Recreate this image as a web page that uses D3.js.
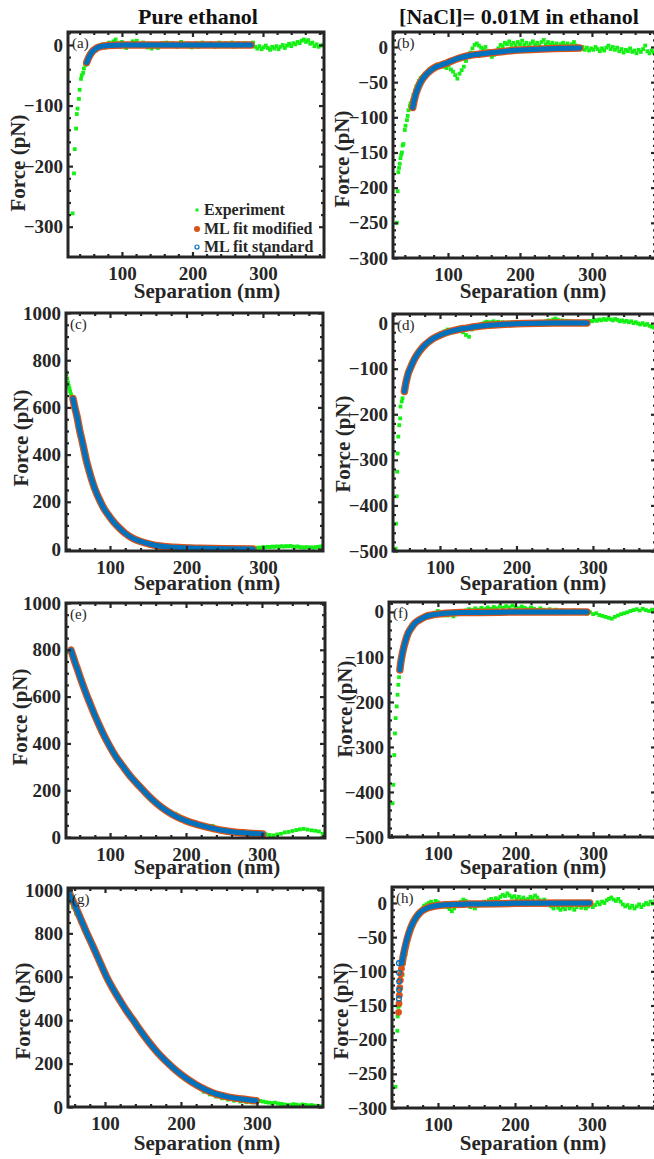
<!DOCTYPE html>
<html>
<head>
<meta charset="utf-8">
<script src="https://cdn.jsdelivr.net/npm/d3@7"></script>
<style>
body { margin: 0; background: #fff; }
text { font-family: "Liberation Serif", "Times New Roman", serif; }
</style>
</head>
<body>
<svg id="fig" width="654" height="1159"></svg>
<script>
// column titles, legend names
var colTitles = ['Pure ethanol', '[NaCl]= 0.01M in ethanol'];
var seriesNames = ['Experiment', 'ML fit modified', 'ML fit standard'];
var xTicks = [100, 200, 300];

// experiment points [separation nm, force pN]
var expA = [[30,-278],[32,-212],[33,-172],[35,-138],[36,-114],[37,-105],[39,-89],[40,-74],[42,-56],[43,-50],[45,-46],[46,-39],[48,-33],[50,-28],[52,-22],[55,-17],[58,-13],[61,-9],[64,-6],[67,-3],[70,-1],
[73,1],[76,-4],[79,2],[82,4],[85,0],[88,6],[91,9],[94,3],[97,-3],[100,5],[103,2],[106,-5],[109,1],[112,-2],[115,6],[118,4],[121,7],[124,2],[127,-1],[130,4],[133,0],[136,-4],[139,2],[142,-6],[145,-3],[148,1],[151,-5],[154,-2],[157,3],[160,-1],[163,4],[166,2],[169,-2],[172,3],[175,0],[178,-3],[181,2],[184,5],[187,1],[190,-2],[193,3],[196,0],[199,-4],[202,-1],[205,3],[208,-3],[211,1],[214,4],[217,-2],[220,2],[223,-1],[226,3],[229,0],[232,-3],[235,2],[238,4],[241,-2],[244,1],[247,3],[250,-1],[253,2],[256,4],[259,-3],[262,0],[265,3],[268,-2],[271,1],[274,3],[277,-1],[280,2],[283,-1],[286,4],[289,-3],[292,-6],[295,-2],[298,-7],[301,-4],[304,-1],[307,-5],[310,-8],[313,-3],[316,-6],[319,-2],[322,-7],[325,-3],[328,0],[331,-5],[334,-1],[337,2],[340,-2],[343,3],[346,1],[349,5],[352,3],[355,7],[358,9],[361,5],[364,8],[367,2],[370,4],[373,-2],[376,1],[379,-3],[382,-1],[385,0]];

var expB = [[29,-250],[30,-205],[31,-178],[32,-172],[33,-166],[34,-158],[35,-153],[36,-150],[37,-140],[38,-138],[40,-118],[41,-112],[43,-104],[44,-98],[45,-90],[47,-84],[48,-80],[50,-76],[52,-68],[54,-62],[56,-56],[58,-52],[60,-48],[62,-44],[65,-41],[68,-38],[71,-36],[74,-32],[77,-30],[80,-29],[83,-27],[86,-25],[89,-27],[92,-24],[95,-28],[98,-30],[101,-26],[104,-32],[107,-35],[110,-40],[113,-45],[116,-38],[119,-33],[122,-28],[125,-20],[128,-14],[131,-8],[134,-2],[137,3],[140,5],[143,2],[146,-1],[149,-3],[152,0],[155,-6],[158,-10],[161,-14],[164,-11],[167,-6],[170,-2],[173,3],[176,1],[179,6],[182,4],[185,8],[188,3],[191,6],[194,2],[197,7],[200,4],[203,9],[206,3],[209,6],[212,1],[215,5],[218,8],[221,3],[224,6],[227,2],[230,7],[233,10],[236,4],[239,7],[242,3],[245,6],[248,2],[251,5],[254,1],[257,4],[260,6],[263,2],[266,5],[269,1],[272,4],[275,7],[278,2],[281,-1],[284,-3],[287,0],[290,-4],[293,-1],[296,-5],[299,-2],[302,-4],[305,0],[308,-3],[311,-6],[314,-2],[317,-5],[320,-1],[323,2],[326,-3],[329,0],[332,-4],[335,-1],[338,-6],[341,-3],[344,-8],[347,-4],[350,-6],[353,-2],[356,-7],[359,-5],[362,-9],[365,-4],[368,-7],[371,-3],[374,2],[377,-6],[380,-9],[383,-5],[386,-8]];

var expC = [[42,750],[43,740],[44,722],[45,705],[46,692],[47,680],[48,668],[49,655],[50,645],[52,628],[55,585],[58,545],[62,478],[66,425],[70,365],[75,312],[80,258],[85,222],[90,185],[95,158],[100,133],[110,93],[120,66],[130,44],[140,30],[150,20],[160,13],[170,7],[180,2],[190,-4],[200,-7],[210,-8],[220,-6],[230,-7],[240,-5],[250,-3],[260,-2],[270,0],[280,1],[288,2],[291,4],[294,6],[297,5],[300,8],[303,7],[306,9],[309,8],[312,10],[315,9],[318,11],[321,9],[324,12],[327,10],[330,12],[333,11],[336,13],[339,10],[342,9],[345,11],[348,8],[351,7],[354,6],[357,8],[360,6],[363,7],[366,5],[369,8],[372,9],[375,10],[378,12]];

var expD = [[42,-495],[42.5,-440],[43.5,-380],[44,-326],[44.6,-286],[45.5,-249],[46.8,-224],[48,-209],[48.4,-183],[50,-172],[51,-165],[53,-150],[55,-130],[57,-115],[60,-100],[63,-88],[66,-80],[70,-68],[74,-58],[78,-50],[82,-45],[86,-40],[90,-35],[94,-32],[98,-27],[102,-22],[106,-18],[110,-14],[114,-18],[118,-20],[122,-18],[126,-16],[130,-20],[134,-26],[138,-30],[142,-14],[146,-8],[150,-5],[154,-2],[158,1],[161,3],[164,1],[167,2],[170,4],[173,1],[176,3],[179,0],[182,2],[185,-1],[188,1],[191,-2],[194,2],[197,0],[200,3],[203,-1],[206,1],[209,-2],[212,0],[215,-3],[218,1],[221,-1],[224,2],[227,0],[230,3],[233,1],[236,2],[239,4],[242,6],[245,4],[248,8],[251,10],[254,7],[257,4],[260,6],[263,3],[266,5],[269,2],[272,4],[275,1],[278,3],[281,0],[284,2],[287,-1],[290,1],[293,3],[296,5],[299,4],[302,7],[305,5],[308,8],[311,6],[314,9],[317,7],[320,10],[323,8],[326,6],[329,9],[332,7],[335,4],[338,6],[341,3],[344,5],[347,2],[350,4],[353,0],[356,2],[359,-1],[362,-3],[365,0],[368,-4],[371,-2],[374,-6],[377,-8],[380,-10]];

var expE = [[42,790],[44,792],[46,795],[48,790],[52,760],[56,725],[60,690],[65,640],[70,600],[75,560],[80,520],[85,480],[90,445],[95,410],[100,385],[110,335],[120,290],[130,250],[140,215],[150,180],[160,150],[170,125],[180,108],[186,100],[190,92],[200,72],[210,60],[220,50],[230,45],[235,48],[240,36],[250,27],[260,21],[270,17],[280,12],[290,10],[300,8],[305,12],[310,9],[315,7],[320,11],[325,14],[330,20],[335,22],[340,26],[345,30],[350,33],[355,35],[360,32],[365,29],[370,27],[375,24],[380,14]];

var expF = [[41.6,-425],[42.5,-384],[43.8,-318],[44.7,-270],[45.6,-236],[46.9,-210],[48,-184],[49,-162],[50,-145],[52,-120],[54,-98],[56,-80],[59,-60],[62,-46],[65,-38],[68,-30],[72,-22],[76,-17],[80,-12],[85,-8],[90,-5],[95,-2],[100,2],[104,-3],[108,-6],[112,-8],[116,-5],[120,-10],[124,-4],[128,-2],[132,0],[136,3],[140,6],[144,4],[148,8],[152,5],[156,9],[160,6],[164,10],[168,7],[172,11],[176,8],[180,12],[184,9],[188,13],[192,10],[196,14],[200,11],[204,8],[208,12],[212,9],[216,6],[220,10],[224,7],[228,4],[232,8],[236,5],[240,3],[244,6],[248,2],[252,5],[256,1],[260,3],[264,-1],[268,2],[272,0],[276,3],[280,-1],[284,1],[288,-2],[292,-4],[296,-1],[300,-5],[304,-3],[308,-7],[312,-9],[316,-11],[320,-13],[324,-15],[328,-11],[332,-8],[336,-5],[340,-3],[344,-1],[348,2],[352,4],[356,6],[360,3],[364,7],[368,4],[372,2],[376,5],[380,1]];

var expG = [[51,940],[52,955],[53,965],[55,950],[58,920],[62,890],[67,855],[72,815],[78,775],[84,735],[90,690],[96,645],[102,600],[110,550],[118,500],[126,455],[134,415],[142,378],[150,340],[158,300],[166,265],[174,235],[182,205],[190,180],[198,158],[206,130],[214,110],[222,92],[230,70],[238,58],[246,48],[254,40],[262,34],[270,29],[278,25],[286,22],[294,21],[300,24],[304,28],[308,25],[312,22],[316,20],[320,18],[324,20],[328,16],[332,14],[336,12],[340,10],[344,9],[348,13],[352,11],[356,8],[360,12],[364,10],[368,7],[372,9],[376,6],[380,5],[384,4]];

var expH = [[44.8,-269],[47.2,-187],[47.6,-166],[48.5,-152],[50,-150],[52,-125],[54,-105],[56,-88],[58,-75],[60,-62],[62,-52],[64,-45],[66,-38],[68,-32],[70,-27],[72,-25],[74,-20],[76,-17],[78,-14],[80,-8],[82,-4],[85,-2],[88,0],[91,2],[94,-1],[97,3],[100,1],[103,-3],[106,-5],[109,-2],[112,-6],[115,-9],[118,-12],[121,-8],[124,-4],[127,0],[130,2],[133,5],[136,3],[139,-2],[142,-6],[145,-3],[148,-8],[151,-4],[154,0],[157,-3],[160,2],[163,-1],[166,4],[169,6],[172,3],[175,7],[178,5],[181,9],[184,12],[187,10],[190,14],[193,11],[196,8],[199,10],[202,6],[205,9],[208,5],[211,8],[214,4],[217,6],[220,9],[223,7],[226,11],[229,8],[232,4],[235,2],[238,5],[241,1],[244,-2],[247,-5],[250,-8],[253,-3],[256,-7],[259,-10],[262,-6],[265,-9],[268,-4],[271,-8],[274,-5],[277,-10],[280,-6],[283,-3],[286,-7],[289,-4],[292,-8],[295,-5],[298,-2],[301,-6],[304,-3],[307,1],[310,-2],[313,2],[316,0],[319,4],[322,6],[325,8],[328,5],[331,3],[334,6],[337,2],[340,-2],[343,-5],[346,-3],[349,-7],[352,-4],[355,-8],[358,-5],[361,-2],[364,-6],[367,-3],[370,0],[373,-2],[376,2],[379,-1],[382,3]];

// ML fits (modified and standard overlap in a-g)
var fitA = [[50,-29],[52,-23],[55,-16],[58,-11],[62,-7],[66,-4],[72,-2],[80,-1],[100,0],[283,0]];
var fitB = [[51,-86],[53,-76],[55,-68],[58,-59],[61,-52],[65,-45],[69,-40],[75,-34],[82,-29],[90,-26],[100,-22],[115,-16],[130,-12],[145,-10],[162,-8],[180,-6],[208,-4],[240,-2.5],[283,-1.5]];
var fitC = [[51.6,638],[54,600],[57,560],[60.3,504],[64,452],[69,377],[73,328],[77.7,278],[82,240],[86.4,208],[92,172],[99.5,137],[106,110],[112.6,88],[120,66],[130,45],[140,32],[151.8,21],[162,14],[173.6,10],[190,6],[217,3],[250,1],[287,0]];
var fitD = [[53.5,-150],[55,-135],[57,-120],[58.6,-110],[61,-100],[64,-88],[67.3,-77],[71,-67],[75,-58],[80.4,-48],[86,-40],[92,-33],[102,-25],[112,-19],[124,-14],[135,-11],[146,-8],[160,-5],[180,-3],[211,-1],[250,0],[292,0]];
var fitE = [[48.6,799],[51,775],[54,745],[57,718],[60.4,685],[65,643],[69,608],[73.6,571],[80,520],[86.7,471],[93,428],[99.9,386],[108,342],[117.4,300],[128,255],[139.4,215],[150,178],[161.3,144],[174,113],[187.6,87],[202,67],[218,51],[235,37],[253,26],[275,18],[301,13]];
var fitF = [[51,-129],[52,-115],[53,-104],[55.3,-84],[58,-66],[61.8,-47],[66,-35],[70.4,-25],[76,-18],[83.3,-11],[92,-7],[105,-4],[130,-1.5],[180,-0.5],[292,0]];
var fitG = [[51,1003],[55,970],[60,932],[66.8,877],[75,810],[84.3,739],[93,670],[101.9,601],[110,548],[119.4,493],[128,445],[137,401],[147,350],[158.9,294],[170,248],[180.9,209],[193,170],[207,132],[220,103],[233.5,78],[246,60],[259.8,48],[280,37],[299,29]];
var fitHmod = [[53.5,-88],[54.6,-80],[56,-72],[57.6,-64],[59.5,-55],[61.8,-46],[64.5,-37],[67.5,-29],[71,-22],[75,-16],[80,-11],[87,-7],[96,-4.5],[110,-2.5],[140,-1.5],[200,-0.5],[297,0]];
var fitHstd = [[52.5,-90],[53.8,-83],[55,-75],[56.5,-67],[58.5,-58],[61,-48],[64,-38],[67.2,-30],[71,-22],[75,-16],[80,-11],[87,-7],[96,-4.5],[110,-2.5],[140,-1.5],[200,-0.5],[297,0]];
// separate markers on the steep start of (h)
var dotsHmod = [[48.8,-160],[49.4,-147],[49.9,-135],[50.5,-124],[51.1,-113],[51.8,-104],[52.6,-96]];
var dotsHstd = [[49.3,-140],[49.5,-127],[49.6,-115],[49.6,-102],[49.3,-88]];

var GREEN = '#14f014', ORANGE = '#D95319', BLUE = '#0072BD', INK = '#262626';

var panels = [
  {id: 'a', exp: expA, mod: fitA, std: fitA, box: [68, 32, 324, 257], xd: [23.5, 386.5], yd: [-350, 21.4], yt: [-300, -200, -100, 0], ym: 20, ylab: [18, 163], xlab: [207, 298]},
  {id: 'b', exp: expB, mod: fitB, std: fitB, box: [393, 32, 656, 258], xd: [23.6, 389], yd: [-300, 21.3], yt: [-300, -250, -200, -150, -100, -50, 0], ym: 10, ylab: [342, 159], xlab: [533, 298]},
  {id: 'c', exp: expC, mod: fitC, std: fitC, box: [66, 313, 323, 551], xd: [42.5, 378.5], yd: [-8.5, 1000], yt: [0, 200, 400, 600, 800, 1000], ym: 50, ylab: [21, 438], xlab: [207, 590]},
  {id: 'd', exp: expD, mod: fitD, std: fitD, box: [393, 314, 656, 551], xd: [38.6, 382.4], yd: [-500, 20], yt: [-500, -400, -300, -200, -100, 0], ym: 20, ylab: [343, 444], xlab: [533, 590]},
  {id: 'e', exp: expE, mod: fitE, std: fitE, box: [66, 603, 325, 838], xd: [42, 383], yd: [-4, 1000], yt: [0, 200, 400, 600, 800, 1000], ym: 50, ylab: [20, 717], xlab: [207, 874]},
  {id: 'f', exp: expF, mod: fitF, std: fitF, box: [389, 602, 656, 837], xd: [37, 381], yd: [-500, 22], yt: [-500, -400, -300, -200, -100, 0], ym: 20, ylab: [345, 709], xlab: [533, 874]},
  {id: 'g', exp: expG, mod: fitG, std: fitG, box: [68, 888, 323, 1107], xd: [51.3, 387], yd: [0, 1009], yt: [0, 200, 400, 600, 800, 1000], ym: 50, ylab: [23, 1011], xlab: [207, 1150]},
  {id: 'h', exp: expH, mod: fitHmod, std: fitHstd, modDots: dotsHmod, stdDots: dotsHstd, box: [392, 887, 656, 1108], xd: [40.3, 383], yd: [-300, 23.4], yt: [-300, -250, -200, -150, -100, -50, 0], ym: 10, ylab: [341, 1011], xlab: [533, 1150]}
];

var svg = d3.select('#fig');

function styleAxis(sel) {
  sel.attr('color', INK);
  sel.select('.domain').remove();
  sel.selectAll('line').attr('stroke-width', 2.2);
  sel.selectAll('text').attr('font-size', 19).attr('font-weight', 'bold');
}

panels.forEach(function(p) {
  var L = p.box[0], T = p.box[1], R = p.box[2], B = p.box[3];
  var x = d3.scaleLinear().domain(p.xd).range([L, R]);
  var y = d3.scaleLinear().domain(p.yd).range([B, T]);
  var g = svg.append('g').attr('class', 'panel-' + p.id);

  g.append('clipPath').attr('id', 'clip-' + p.id)
    .append('rect').attr('x', L).attr('y', T).attr('width', R - L).attr('height', B - T);
  var plot = g.append('g').attr('clip-path', 'url(#clip-' + p.id + ')');

  plot.selectAll('rect.exp').data(p.exp).enter().append('rect')
    .attr('class', 'exp')
    .attr('x', function(d) { return x(d[0]) - 1.9; })
    .attr('y', function(d) { return y(d[1]) - 1.9; })
    .attr('width', 3.8).attr('height', 3.8)
    .attr('fill', GREEN);

  var line = d3.line()
    .x(function(d) { return x(d[0]); })
    .y(function(d) { return y(d[1]); })
    .curve(d3.curveMonotoneX);

  plot.append('path').datum(p.mod).attr('d', line)
    .attr('fill', 'none').attr('stroke', ORANGE).attr('stroke-width', 7.5)
    .attr('stroke-linecap', 'round').attr('stroke-linejoin', 'round');
  plot.append('path').datum(p.std).attr('d', line)
    .attr('fill', 'none').attr('stroke', BLUE).attr('stroke-width', 5)
    .attr('stroke-linecap', 'round').attr('stroke-linejoin', 'round');

  if (p.modDots) {
    plot.selectAll('circle.mod').data(p.modDots).enter().append('circle')
      .attr('class', 'mod')
      .attr('cx', function(d) { return x(d[0]); })
      .attr('cy', function(d) { return y(d[1]); })
      .attr('r', 3.4).attr('fill', ORANGE);
  }
  if (p.stdDots) {
    plot.selectAll('circle.std').data(p.stdDots).enter().append('circle')
      .attr('class', 'std')
      .attr('cx', function(d) { return x(d[0]); })
      .attr('cy', function(d) { return y(d[1]); })
      .attr('r', 2.4).attr('fill', 'none').attr('stroke', BLUE).attr('stroke-width', 1.3);
  }

  // minor tick positions
  var xMinor = d3.range(0, 400, 20).filter(function(v) { return v > p.xd[0] && v < p.xd[1] && xTicks.indexOf(v) < 0; });
  var yMinor = d3.range(p.yt[0], p.yd[1], p.ym).filter(function(v) { return v > p.yd[0] && v < p.yd[1] && p.yt.indexOf(v) < 0; });

  g.append('g').attr('transform', 'translate(0,' + B + ')')
    .call(d3.axisBottom(x).tickValues(xTicks).tickSizeInner(-5).tickSizeOuter(0).tickPadding(10))
    .call(styleAxis);
  g.append('g').attr('transform', 'translate(0,' + T + ')')
    .call(d3.axisTop(x).tickValues(xTicks).tickSizeInner(-5).tickSizeOuter(0).tickFormat(''))
    .call(styleAxis);
  g.append('g').attr('transform', 'translate(' + L + ',0)')
    .call(d3.axisLeft(y).tickValues(p.yt).tickSizeInner(-5).tickSizeOuter(0).tickPadding(5).tickFormat(d3.format('d')))
    .call(styleAxis);
  g.append('g').attr('transform', 'translate(' + R + ',0)')
    .call(d3.axisRight(y).tickValues(p.yt).tickSizeInner(-5).tickSizeOuter(0).tickFormat(''))
    .call(styleAxis);

  [[d3.axisBottom(x), B, xMinor, 'x'], [d3.axisTop(x), T, xMinor, 'x'],
   [d3.axisLeft(y), L, yMinor, 'y'], [d3.axisRight(y), R, yMinor, 'y']].forEach(function(m) {
    var ax = m[0].tickValues(m[2]).tickSizeInner(-3).tickSizeOuter(0).tickFormat('');
    g.append('g')
      .attr('transform', m[3] === 'x' ? 'translate(0,' + m[1] + ')' : 'translate(' + m[1] + ',0)')
      .call(ax).call(styleAxis);
  });

  g.append('rect').attr('x', L).attr('y', T).attr('width', R - L).attr('height', B - T)
    .attr('fill', 'none').attr('stroke', INK).attr('stroke-width', 3);

  g.append('text').attr('x', L + 4).attr('y', T + 16)
    .attr('font-size', 15).attr('fill', INK).text('(' + p.id + ')');

  g.append('text').attr('x', p.xlab[0]).attr('y', p.xlab[1])
    .attr('text-anchor', 'middle').attr('font-size', 21).attr('font-weight', 'bold')
    .attr('fill', INK).text('Separation (nm)');

  g.append('text')
    .attr('transform', 'translate(' + p.ylab[0] + ',' + p.ylab[1] + ') rotate(-90)')
    .attr('text-anchor', 'middle').attr('dy', '0.35em')
    .attr('font-size', 21).attr('font-weight', 'bold')
    .attr('fill', INK).text('Force (pN)');
});

// column titles
svg.selectAll('text.title').data(colTitles).enter().append('text')
  .attr('class', 'title')
  .attr('x', function(d, i) { return i === 0 ? 198 : 519; })
  .attr('y', 24)
  .attr('text-anchor', 'middle').attr('font-size', 22).attr('font-weight', 'bold')
  .attr('fill', '#111').text(function(d) { return d; });

// legend inside (a)
var legend = svg.append('g').attr('class', 'legend');
var legY = [210, 229, 247];
seriesNames.forEach(function(name, i) {
  var cy = legY[i];
  if (i === 0) {
    legend.append('rect').attr('x', 195.5).attr('y', cy - 1.5).attr('width', 3).attr('height', 3).attr('fill', GREEN);
  } else if (i === 1) {
    legend.append('circle').attr('cx', 197).attr('cy', cy).attr('r', 3).attr('fill', ORANGE);
  } else {
    legend.append('circle').attr('cx', 197).attr('cy', cy).attr('r', 2).attr('fill', 'none')
      .attr('stroke', BLUE).attr('stroke-width', 1.2);
  }
  legend.append('text').attr('x', 204).attr('y', cy + 5)
    .attr('font-size', 16).attr('font-weight', 'bold').attr('fill', INK).text(name);
});
</script>
</body>
</html>
